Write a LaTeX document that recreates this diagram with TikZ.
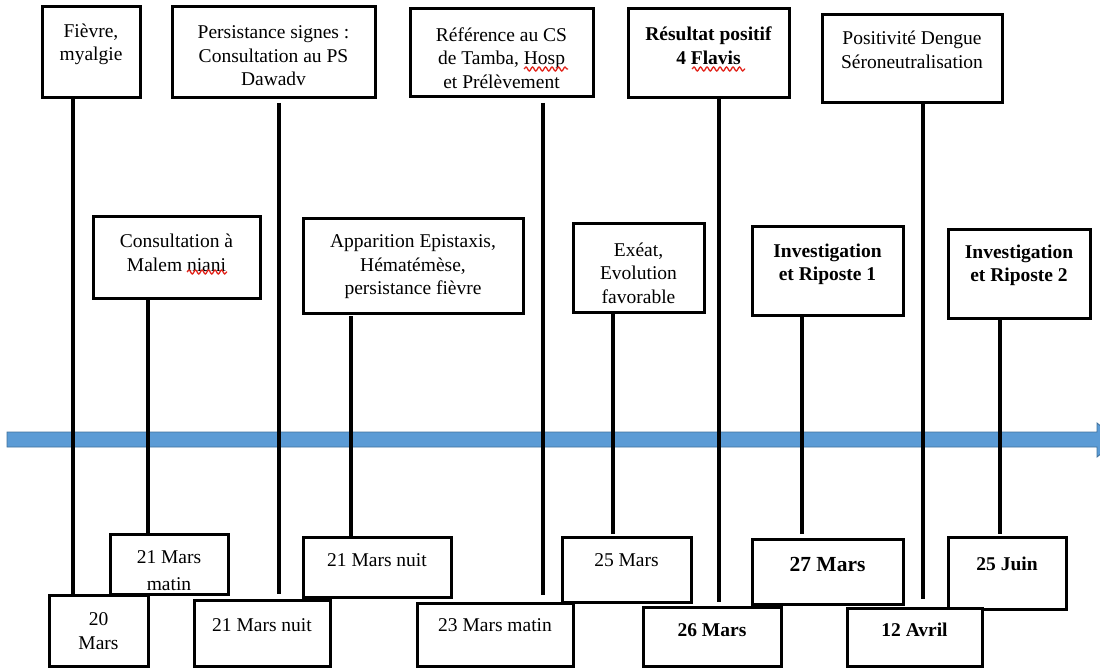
\documentclass[tikz,border=0pt]{standalone}
\usepackage{fontspec}
\setmainfont{Liberation Serif}
\usetikzlibrary{decorations.pathmorphing,calc}
\definecolor{barblue}{HTML}{5B9BD5}
\definecolor{baredge}{HTML}{41719C}
\definecolor{spellred}{HTML}{E2231A}
\newcommand\mybox[5]{\node[box, anchor=north west, minimum width={(#4-#2)*1pt}, minimum height={(#5-#3)*1pt}] (#1) at (#2,#3) {};}
\begin{document}
\begin{tikzpicture}[x=1pt,y=-1pt,
  box/.style={draw, line width=3pt, fill=white, inner sep=0pt, outer sep=0pt, rectangle},
  txt/.style={align=center, font=\fontsize{19.5}{23.5}\selectfont, inner sep=0pt},
  btxt/.style={align=center, font=\fontsize{19.5}{23.5}\selectfont\bfseries, inner sep=0pt},
  vline/.style={line width=4pt, black},
  squig/.style={spellred, line width=1.3pt, decorate, decoration={snake, segment length=6.5pt, amplitude=2pt}}]
\useasboundingbox (0,0) rectangle (1100,668);
% time axis arrow
\path[fill=barblue, draw=baredge, line width=0.8pt]
  (7,432) -- (1097,432) -- (1097,423) -- (1118,440) -- (1097,457) -- (1097,447) -- (7,447) -- cycle;
% boxes (geometry)
\mybox{T1}{42}{7}{140}{98}
\mybox{T2}{172}{7}{375}{98}
\mybox{T3}{410}{9}{593}{97}
\mybox{T4}{628}{9}{789}{98}
\mybox{T5}{822}{15}{1002}{103}
\mybox{M1}{93}{217}{260}{299}
\mybox{M2}{303}{219}{523}{313}
\mybox{M3}{573}{224}{704}{312}
\mybox{M4}{752}{227}{903}{315}
\mybox{M5}{948}{230}{1090}{318}
\mybox{B1}{110}{534}{228}{594}
\mybox{B2}{303}{537}{451}{597}
\mybox{B3}{562}{537}{691}{602}
\mybox{B4}{752}{539}{903}{604}
\mybox{B5}{948}{537}{1066}{609}
\mybox{L1}{49}{595}{148}{666}
\mybox{L2}{194}{600}{330}{666}
\mybox{L3}{417}{603}{573}{666}
\mybox{L4}{643}{607}{781}{666}
\mybox{L5}{847}{608}{982}{666}
% connector x positions
\coordinate (x1) at (73,0);
\coordinate (x2) at (148,0);
\coordinate (x3) at (279,0);
\coordinate (x4) at (351,0);
\coordinate (x5) at (543,0);
\coordinate (x6) at (613,0);
\coordinate (x7) at (719,0);
\coordinate (x8) at (802,0);
\coordinate (x9) at (923,0);
\coordinate (x10) at (1000,0);
% connectors
\draw[vline] (T1.south -| x1) -- (L1.north -| x1);
\draw[vline] (M1.south -| x2) -- (B1.north -| x2);
\draw[vline, shorten <=5pt, shorten >=6pt] (T2.south -| x3) -- (L2.north -| x3);
\draw[vline, shorten <=3pt] (M2.south -| x4) -- (B2.north -| x4);
\draw[vline, shorten <=6pt, shorten >=8pt] (T3.south -| x5) -- (L3.north -| x5);
\draw[vline, shorten >=3pt] (M3.south -| x6) -- (B3.north -| x6);
\draw[vline, shorten >=5pt] (T4.south -| x7) -- (L4.north -| x7);
\draw[vline, shorten >=5pt] (M4.south -| x8) -- (B4.north -| x8);
\draw[vline, shorten >=9pt] (T5.south -| x9) -- (L5.north -| x9);
\draw[vline, shorten >=3pt] (M5.south -| x10) -- (B5.north -| x10);
% texts
\node[txt] (T1t) at (91,44.5) {Fièvre,\\myalgie};
\node[txt] (T2t) at (273.5,56) {Persistance signes :\\Consultation au PS\\Dawadv};
\node[txt] (T3t) at (501.5,58) {Référence au CS\\de Tamba, Hosp\\et Prélèvement};
\node[btxt] (T4t) at (708.5,45.5) {Résultat positif\\4 Flavis};
\node[txt] (T5t) at (912,50) {Positivité Dengue\\Séroneutralisation};
\node[txt] (M1t) at (176.5,253) {Consultation à\\Malem niani};
\node[txt] (M2t) at (413,267) {Apparition Epistaxis,\\Hématémèse,\\persistance fièvre};
\node[txt] (M3t) at (638.5,273) {Exéat,\\Evolution\\favorable};
\node[btxt] (M4t) at (827.5,264.5) {Investigation\\et Riposte 1};
\node[btxt] (M5t) at (1019,265.5) {Investigation\\et Riposte 2};
\node[txt] (B1t) at (169,557) {21 Mars};
\begin{scope}
\clip ($(B1.south west)+(1.5,-1.5)$) rectangle ($(B1.north east)+(-1.5,1.5)$);
\node[txt] (B1m) at (169,584) {matin};
\end{scope}
\node[txt] (B2t) at (377,560) {21 Mars nuit};
\node[txt] (B3t) at (626.5,560) {25 Mars};
\node[btxt, font=\fontsize{21.5}{25}\selectfont\bfseries] (B4t) at (827.5,564) {27 Mars};
\node[btxt] (B5t) at (1007,564) {25 Juin};
\node[txt] (L1t) at (98.5,631) {20\\Mars};
\node[txt] (L2t) at (262,625) {21 Mars nuit};
\node[txt] (L3t) at (495,625) {23 Mars matin};
\node[btxt] (L4t) at (712,630) {26 Mars};
\node[btxt] (L5t) at (914.5,630) {12 Avril};
% spell-check underlines
\coordinate (s1a) at (187,272); \coordinate (s1b) at (227,272);
\coordinate (s2a) at (524,69); \coordinate (s2b) at (568,69);
\coordinate (s3a) at (692,69); \coordinate (s3b) at (745,69);
\draw[squig] (s1a) -- (s1b);
\draw[squig] (s2a) -- (s2b);
\draw[squig] (s3a) -- (s3b);
\end{tikzpicture}
\end{document}
